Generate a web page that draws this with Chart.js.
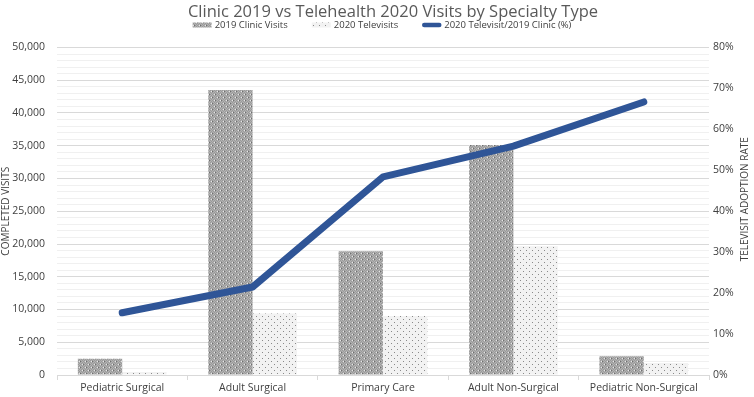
<!DOCTYPE html>
<html>
<head>
<meta charset="utf-8">
<script src="https://cdn.jsdelivr.net/npm/chart.js@4.4.1/dist/chart.umd.min.js"></script>
<style>
  html, body { margin: 0; padding: 0; background: #fff; }
  #wrap { width: 754px; height: 397px; }
</style>
</head>
<body>
<div id="wrap"><canvas id="visitsChart" width="754" height="397"></canvas></div>
<script>
// Data
const categories = ["Pediatric Surgical", "Adult Surgical", "Primary Care", "Adult Non-Surgical", "Pediatric Non-Surgical"];
const clinic2019 = [2500, 43500, 18900, 35100, 2860];
const tele2020 = [460, 9380, 9020, 19670, 1830];
const adoptionPct = [15.2, 21.5, 48.4, 55.9, 66.7];

const leftTicks = [0, 5000, 10000, 15000, 20000, 25000, 30000, 35000, 40000, 45000, 50000];
const rightTicks = [0, 10, 20, 30, 40, 50, 60, 70, 80];

const chartTitle = "Clinic 2019 vs Telehealth 2020 Visits by Specialty Type";

const FONT = "'Open Sans', 'Noto Sans', sans-serif";
const TEXT = "#404040";
const BLUE = "#2f5597";

// Excel-like fill patterns
function checkerPattern() {
  const c = document.createElement("canvas");
  c.width = 6; c.height = 6;
  const g = c.getContext("2d");
  g.fillStyle = "#b2b2b2";
  g.fillRect(0, 0, 6, 6);
  for (let y = 0; y < 6; y++) {
    for (let x = 0; x < 6; x++) {
      if ((x + y) % 2 === 0) { g.fillStyle = "#9a9a9a"; g.fillRect(x, y, 1, 1); }
    }
  }
  g.fillStyle = "#e6e6e6";
  g.fillRect(1, 1, 1, 1); g.fillRect(4, 4, 1, 1);
  g.fillStyle = "#6e6e6e";
  g.fillRect(2, 1, 1, 1); g.fillRect(5, 4, 1, 1);
  return g.createPattern(c, "repeat");
}

function dotPattern() {
  const c = document.createElement("canvas");
  c.width = 6; c.height = 6;
  const g = c.getContext("2d");
  g.fillStyle = "#f2f2f2";
  g.fillRect(0, 0, 6, 6);
  g.fillStyle = "#8a8a8a";
  g.fillRect(1, 1, 1, 1);
  g.fillRect(4, 4, 1, 1);
  return g.createPattern(c, "repeat");
}

// Title + legend drawn in the header band, Excel style
const header = {
  id: "header",
  afterDraw(chart) {
    const c = chart.ctx;
    c.save();
    c.fillStyle = "#595959";
    c.font = "16.5px " + FONT;
    c.textAlign = "center";
    c.textBaseline = "alphabetic";
    c.fillText(chartTitle, 393, 16.5);

    // legend order: clinic, televisits, ratio
    const order = [1, 2, 0];
    const boxW = 19, boxH = 5, gap = 3, spacing = 24;
    c.font = "9.5px " + FONT;
    c.textAlign = "left";
    const widths = order.map(i => boxW + gap + c.measureText(chart.data.datasets[i].label).width);
    const total = widths.reduce((a, b) => a + b, 0) + spacing * (order.length - 1);
    let x = 382 - total / 2;
    const midY = 25;
    order.forEach((i, k) => {
      const ds = chart.data.datasets[i];
      if (ds.type === "line") {
        c.strokeStyle = ds.borderColor;
        c.lineWidth = 4.5;
        c.lineCap = "round";
        c.beginPath();
        c.moveTo(x + 2, midY);
        c.lineTo(x + boxW - 2, midY);
        c.stroke();
      } else {
        c.fillStyle = ds.backgroundColor;
        c.fillRect(x, midY - boxH / 2, boxW, boxH);
      }
      c.fillStyle = TEXT;
      c.fillText(ds.label, x + boxW + gap, midY + 3.4);
      x += widths[k] + spacing;
    });
    c.restore();
  }
};

// right axis title reads bottom-to-top, like Excel
const rightTitle = {
  id: "rightTitle",
  afterDraw(chart) {
    const c = chart.ctx;
    const area = chart.chartArea;
    c.save();
    c.translate(745, (area.top + area.bottom) / 2 - 12);
    c.rotate(-Math.PI / 2);
    c.fillStyle = TEXT;
    c.font = "10px " + FONT;
    c.textAlign = "center";
    c.textBaseline = "middle";
    c.fillText("TELEVISIT ADOPTION RATE", 0, 0);
    c.restore();
  }
};

const ctx = document.getElementById("visitsChart").getContext("2d");

const chart = new Chart(ctx, {
  data: {
    labels: categories,
    datasets: [
      {
        type: "line",
        label: "2020 Televisit/2019 Clinic (%)",
        data: adoptionPct,
        yAxisID: "y1",
        borderColor: BLUE,
        backgroundColor: BLUE,
        borderWidth: 7,
        borderCapStyle: "round",
        borderJoinStyle: "round",
        pointRadius: 0,
        tension: 0,
        order: 0
      },
      {
        type: "bar",
        label: "2019 Clinic Visits",
        data: clinic2019,
        yAxisID: "y",
        backgroundColor: checkerPattern(),
        borderWidth: 0,
        categoryPercentage: 0.68,
        barPercentage: 1.0,
        order: 1
      },
      {
        type: "bar",
        label: "2020 Televisits",
        data: tele2020,
        yAxisID: "y",
        backgroundColor: dotPattern(),
        borderWidth: 0,
        categoryPercentage: 0.68,
        barPercentage: 1.0,
        order: 2
      }
    ]
  },
  plugins: [header, rightTitle],
  options: {
    responsive: false,
    animation: false,
    layout: { padding: { top: 47.5, left: 0, right: 0, bottom: 0 } },
    plugins: {
      title: { display: false },
      legend: { display: false },
      tooltip: { enabled: false }
    },
    scales: {
      x: {
        grid: {
          offset: true,
          drawOnChartArea: false,
          drawTicks: true,
          tickLength: 5,
          color: "#d9d9d9"
        },
        border: { color: "#d9d9d9" },
        ticks: { color: TEXT, font: { family: FONT, size: 10.5 }, padding: 2 },
        afterFit(scale) { scale.height = 22; }
      },
      y: {
        position: "left",
        min: 0,
        max: 50000,
        afterBuildTicks(scale) {
          const t = [];
          for (let v = 0; v <= 50000; v += 1000) t.push({ value: v });
          scale.ticks = t;
        },
        ticks: {
          autoSkip: false,
          color: TEXT,
          font: { family: FONT, size: 10.5 },
          padding: 12,
          callback(v) { return leftTicks.includes(v) ? v.toLocaleString("en-US") : ""; }
        },
        grid: {
          drawTicks: false,
          color(c) { return c.tick && c.tick.value % 5000 === 0 ? "#d9d9d9" : "#f0f0f0"; },
          lineWidth: 1
        },
        border: { display: false },
        title: {
          display: true,
          text: "COMPLETED VISITS",
          color: TEXT,
          font: { family: FONT, size: 10 },
          padding: { top: 0, bottom: 0 }
        },
        afterFit(scale) { scale.width = 57; }
      },
      y1: {
        position: "right",
        min: 0,
        max: 80,
        afterBuildTicks(scale) { scale.ticks = rightTicks.map(v => ({ value: v })); },
        ticks: {
          color: TEXT,
          font: { family: FONT, size: 10.5 },
          padding: 4,
          callback(v) { return v + "%"; }
        },
        grid: { drawOnChartArea: false, drawTicks: false },
        border: { display: false },
        afterFit(scale) { scale.width = 45; }
      }
    }
  }
});
</script>
</body>
</html>
